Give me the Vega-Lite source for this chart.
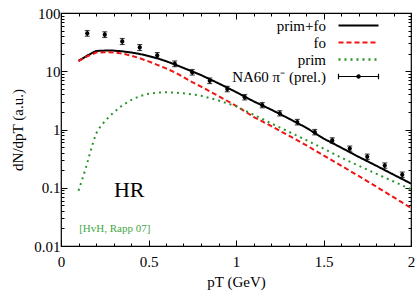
{
  "$schema": "https://vega.github.io/schema/vega-lite/v6.json",
  "width": 350,
  "height": 233,
  "autosize": {"type": "none"},
  "padding": {"left": 61, "top": 13, "right": 6, "bottom": 46},
  "background": "white",
  "config": {
    "font": "Liberation Serif",
    "view": {"stroke": "black", "strokeWidth": 1.2},
    "axis": {"domain": false, "grid": false, "labelFont": "Liberation Serif", "titleFont": "Liberation Serif", "labelFontSize": 15, "titleFontSize": 15, "labelColor": "black", "titleColor": "black", "tickColor": "black", "titleFontWeight": "normal", "labelOverlap": false, "labelBound": false, "labelFlush": false},
    "legend": {"labelFont": "Liberation Serif", "labelFontSize": 15, "labelColor": "black"}
  },
  "datasets": {
    "curves": [
      {"series": "prim+fo", "pT": 0.1, "v": 15}, {"series": "prim+fo", "pT": 0.15, "v": 18.6}, {"series": "prim+fo", "pT": 0.2, "v": 22.3}, {"series": "prim+fo", "pT": 0.25, "v": 22.6}, {"series": "prim+fo", "pT": 0.3, "v": 22.6}, {"series": "prim+fo", "pT": 0.35, "v": 22.0}, {"series": "prim+fo", "pT": 0.4, "v": 21.0}, {"series": "prim+fo", "pT": 0.45, "v": 19.8}, {"series": "prim+fo", "pT": 0.5, "v": 18.3}, {"series": "prim+fo", "pT": 0.55, "v": 16.7}, {"series": "prim+fo", "pT": 0.6, "v": 14.9}, {"series": "prim+fo", "pT": 0.65, "v": 13.1}, {"series": "prim+fo", "pT": 0.7, "v": 11.4}, {"series": "prim+fo", "pT": 0.75, "v": 9.9}, {"series": "prim+fo", "pT": 0.8, "v": 8.6}, {"series": "prim+fo", "pT": 0.9, "v": 6.2}, {"series": "prim+fo", "pT": 1.0, "v": 4.4}, {"series": "prim+fo", "pT": 1.1, "v": 3.05}, {"series": "prim+fo", "pT": 1.2, "v": 2.2}, {"series": "prim+fo", "pT": 1.3, "v": 1.55}, {"series": "prim+fo", "pT": 1.4, "v": 1.08}, {"series": "prim+fo", "pT": 1.5, "v": 0.7}, {"series": "prim+fo", "pT": 1.6, "v": 0.49}, {"series": "prim+fo", "pT": 1.7, "v": 0.34}, {"series": "prim+fo", "pT": 1.8, "v": 0.24}, {"series": "prim+fo", "pT": 1.9, "v": 0.168}, {"series": "prim+fo", "pT": 2.0, "v": 0.118},
      {"series": "fo", "pT": 0.1, "v": 15}, {"series": "fo", "pT": 0.15, "v": 18.0}, {"series": "fo", "pT": 0.2, "v": 20.9}, {"series": "fo", "pT": 0.25, "v": 21.2}, {"series": "fo", "pT": 0.3, "v": 21.0}, {"series": "fo", "pT": 0.35, "v": 20.1}, {"series": "fo", "pT": 0.4, "v": 18.6}, {"series": "fo", "pT": 0.45, "v": 16.7}, {"series": "fo", "pT": 0.5, "v": 14.8}, {"series": "fo", "pT": 0.55, "v": 12.9}, {"series": "fo", "pT": 0.6, "v": 11.2}, {"series": "fo", "pT": 0.65, "v": 9.6}, {"series": "fo", "pT": 0.7, "v": 7.9}, {"series": "fo", "pT": 0.75, "v": 6.5}, {"series": "fo", "pT": 0.8, "v": 5.45}, {"series": "fo", "pT": 0.9, "v": 3.75}, {"series": "fo", "pT": 1.0, "v": 2.55}, {"series": "fo", "pT": 1.1, "v": 1.65}, {"series": "fo", "pT": 1.2, "v": 1.15}, {"series": "fo", "pT": 1.3, "v": 0.79}, {"series": "fo", "pT": 1.4, "v": 0.54}, {"series": "fo", "pT": 1.5, "v": 0.36}, {"series": "fo", "pT": 1.6, "v": 0.24}, {"series": "fo", "pT": 1.7, "v": 0.16}, {"series": "fo", "pT": 1.8, "v": 0.105}, {"series": "fo", "pT": 1.9, "v": 0.069}, {"series": "fo", "pT": 2.0, "v": 0.045},
      {"series": "prim", "pT": 0.1, "v": 0.089}, {"series": "prim", "pT": 0.12, "v": 0.135}, {"series": "prim", "pT": 0.14, "v": 0.21}, {"series": "prim", "pT": 0.16, "v": 0.34}, {"series": "prim", "pT": 0.18, "v": 0.55}, {"series": "prim", "pT": 0.2, "v": 0.85}, {"series": "prim", "pT": 0.225, "v": 1.12}, {"series": "prim", "pT": 0.25, "v": 1.38}, {"series": "prim", "pT": 0.275, "v": 1.66}, {"series": "prim", "pT": 0.3, "v": 1.95}, {"series": "prim", "pT": 0.35, "v": 2.6}, {"series": "prim", "pT": 0.4, "v": 3.2}, {"series": "prim", "pT": 0.45, "v": 3.75}, {"series": "prim", "pT": 0.5, "v": 4.1}, {"series": "prim", "pT": 0.55, "v": 4.3}, {"series": "prim", "pT": 0.6, "v": 4.35}, {"series": "prim", "pT": 0.65, "v": 4.3}, {"series": "prim", "pT": 0.7, "v": 4.2}, {"series": "prim", "pT": 0.75, "v": 4.0}, {"series": "prim", "pT": 0.8, "v": 3.8}, {"series": "prim", "pT": 0.9, "v": 3.15}, {"series": "prim", "pT": 1.0, "v": 2.5}, {"series": "prim", "pT": 1.1, "v": 1.8}, {"series": "prim", "pT": 1.2, "v": 1.28}, {"series": "prim", "pT": 1.3, "v": 0.92}, {"series": "prim", "pT": 1.4, "v": 0.66}, {"series": "prim", "pT": 1.5, "v": 0.47}, {"series": "prim", "pT": 1.6, "v": 0.33}, {"series": "prim", "pT": 1.7, "v": 0.24}, {"series": "prim", "pT": 1.8, "v": 0.175}, {"series": "prim", "pT": 1.9, "v": 0.128}, {"series": "prim", "pT": 2.0, "v": 0.094}
    ],
    "na60": [
      {"pT": 0.15, "v": 44.9, "lo": 40, "hi": 50},
      {"pT": 0.25, "v": 42.5, "lo": 38, "hi": 47.5},
      {"pT": 0.35, "v": 32.5, "lo": 28.8, "hi": 36.5},
      {"pT": 0.45, "v": 25.6, "lo": 22.7, "hi": 28.7},
      {"pT": 0.55, "v": 18.7, "lo": 16.7, "hi": 20.9},
      {"pT": 0.65, "v": 13.4, "lo": 12.0, "hi": 15.0},
      {"pT": 0.75, "v": 9.6, "lo": 8.6, "hi": 10.7},
      {"pT": 0.85, "v": 6.85, "lo": 6.15, "hi": 7.65},
      {"pT": 0.95, "v": 4.95, "lo": 4.45, "hi": 5.5},
      {"pT": 1.05, "v": 3.58, "lo": 3.22, "hi": 3.98},
      {"pT": 1.15, "v": 2.62, "lo": 2.36, "hi": 2.9},
      {"pT": 1.25, "v": 1.9, "lo": 1.71, "hi": 2.1},
      {"pT": 1.35, "v": 1.34, "lo": 1.2, "hi": 1.49},
      {"pT": 1.45, "v": 0.9, "lo": 0.81, "hi": 1.0},
      {"pT": 1.55, "v": 0.65, "lo": 0.585, "hi": 0.72},
      {"pT": 1.65, "v": 0.47, "lo": 0.423, "hi": 0.52},
      {"pT": 1.75, "v": 0.34, "lo": 0.306, "hi": 0.378},
      {"pT": 1.85, "v": 0.24, "lo": 0.216, "hi": 0.267},
      {"pT": 1.95, "v": 0.167, "lo": 0.15, "hi": 0.186}
    ]
  },
  "layer": [
    {
      "data": {"name": "curves"},
      "mark": {"type": "line", "strokeWidth": 2, "clip": true},
      "encoding": {
        "x": {"field": "pT", "type": "quantitative", "scale": {"domain": [0, 2], "nice": false},
          "axis": {"orient": "bottom", "title": "pT (GeV)", "titlePadding": 2,
            "values": [0, 0.1, 0.2, 0.3, 0.4, 0.5, 0.6, 0.7, 0.8, 0.9, 1, 1.1, 1.2, 1.3, 1.4, 1.5, 1.6, 1.7, 1.8, 1.9, 2],
            "labelExpr": "abs(datum.value*2 - round(datum.value*2)) < 0.001 ? format(datum.value, '~g') : ''",
            "tickSize": {"condition": {"test": "abs(datum.value*2 - round(datum.value*2)) < 0.001", "value": -6}, "value": -3},
            "labelPadding": 14}},
        "y": {"field": "v", "type": "quantitative", "scale": {"type": "log", "domain": [0.01, 100], "nice": false},
          "axis": {"orient": "left", "title": "dN/dpT (a.u.)", "titlePadding": 8,
            "values": [0.01, 0.02, 0.03, 0.04, 0.05, 0.06, 0.07, 0.08, 0.09, 0.1, 0.2, 0.3, 0.4, 0.5, 0.6, 0.7, 0.8, 0.9, 1, 2, 3, 4, 5, 6, 7, 8, 9, 10, 20, 30, 40, 50, 60, 70, 80, 90, 100],
            "labelExpr": "abs(log(datum.value)/LN10 - round(log(datum.value)/LN10)) < 0.001 ? format(datum.value, '~g') : ''",
            "tickSize": {"condition": {"test": "abs(log(datum.value)/LN10 - round(log(datum.value)/LN10)) < 0.001", "value": -6}, "value": -3},
            "labelPadding": 7}},
        "color": {"field": "series", "type": "nominal",
          "scale": {"domain": ["prim+fo", "fo", "prim", "NA60 π⁻ (prel.)"], "range": ["black", "#f01414", "#2a942a", "black"]},
          "legend": {"title": null, "orient": "none", "legendX": 290, "legendY": 5, "symbolType": "stroke", "symbolSize": 1600, "symbolStrokeWidth": 2, "rowPadding": 1, "labelAlign": "right", "labelOffset": -40,
            "encode": {"symbols": {"update": {
              "shape": {"signal": "datum.value === 'NA60 π⁻ (prel.)' ? 'M-1,0L1,0M-1,-0.14L-1,0.14M1,-0.14L1,0.14M-0.08,0A0.08,0.08,0,1,0,0.08,0A0.08,0.08,0,1,0,-0.08,0Z' : 'stroke'"},
              "fill": {"signal": "datum.value === 'NA60 π⁻ (prel.)' ? 'black' : 'transparent'"},
              "strokeWidth": {"signal": "datum.value === 'NA60 π⁻ (prel.)' ? 1.2 : (datum.value === 'prim' ? 2.5 : 2)"}
            }}}}},
        "strokeDash": {"field": "series", "type": "nominal",
          "scale": {"domain": ["prim+fo", "fo", "prim", "NA60 π⁻ (prel.)"], "range": [[1, 0], [5, 3], [2, 4], [1, 0]]},
          "legend": {"title": null, "orient": "none", "legendX": 290, "legendY": 5, "symbolType": "stroke", "symbolSize": 1600, "symbolStrokeWidth": 2, "rowPadding": 1, "labelAlign": "right", "labelOffset": -40}}
      }
    },
    {
      "data": {"name": "na60"},
      "mark": {"type": "point", "filled": true, "color": "black", "size": 18, "opacity": 1},
      "encoding": {
        "x": {"field": "pT", "type": "quantitative",
          "axis": {"orient": "top", "title": null, "labels": false,
            "values": [0, 0.1, 0.2, 0.3, 0.4, 0.5, 0.6, 0.7, 0.8, 0.9, 1, 1.1, 1.2, 1.3, 1.4, 1.5, 1.6, 1.7, 1.8, 1.9, 2],
            "tickSize": {"condition": {"test": "abs(datum.value*2 - round(datum.value*2)) < 0.001", "value": -6}, "value": -3}}},
        "y": {"field": "v", "type": "quantitative",
          "axis": {"orient": "right", "title": null, "labels": false,
            "values": [0.01, 0.02, 0.03, 0.04, 0.05, 0.06, 0.07, 0.08, 0.09, 0.1, 0.2, 0.3, 0.4, 0.5, 0.6, 0.7, 0.8, 0.9, 1, 2, 3, 4, 5, 6, 7, 8, 9, 10, 20, 30, 40, 50, 60, 70, 80, 90, 100],
            "tickSize": {"condition": {"test": "abs(log(datum.value)/LN10 - round(log(datum.value)/LN10)) < 0.001", "value": -6}, "value": -3}}}
      }
    },
    {
      "data": {"name": "na60"},
      "mark": {"type": "rule", "color": "black", "strokeWidth": 1.2},
      "encoding": {
        "x": {"field": "pT", "type": "quantitative", "axis": null},
        "y": {"field": "lo", "type": "quantitative", "axis": null},
        "y2": {"field": "hi"}
      }
    },
    {
      "data": {"name": "na60"},
      "mark": {"type": "tick", "orient": "horizontal", "color": "black", "size": 5, "thickness": 1.2},
      "encoding": {
        "x": {"field": "pT", "type": "quantitative", "axis": null},
        "y": {"field": "lo", "type": "quantitative", "axis": null}
      }
    },
    {
      "data": {"name": "na60"},
      "mark": {"type": "tick", "orient": "horizontal", "color": "black", "size": 5, "thickness": 1.2},
      "encoding": {
        "x": {"field": "pT", "type": "quantitative", "axis": null},
        "y": {"field": "hi", "type": "quantitative", "axis": null}
      }
    },
    {
      "data": {"values": [{"label": "HR"}]},
      "mark": {"type": "text", "font": "Liberation Serif", "fontSize": 22, "color": "black", "align": "center", "baseline": "middle"},
      "encoding": {
        "x": {"datum": 0.39, "type": "quantitative", "axis": null},
        "y": {"datum": 0.092, "type": "quantitative", "axis": null},
        "text": {"field": "label"}
      }
    },
    {
      "data": {"values": [{"label": "[HvH, Rapp 07]"}]},
      "mark": {"type": "text", "font": "Liberation Serif", "fontSize": 11, "color": "#45a845", "align": "center", "baseline": "middle"},
      "encoding": {
        "x": {"datum": 0.307, "type": "quantitative", "axis": null},
        "y": {"datum": 0.0197, "type": "quantitative", "axis": null},
        "text": {"field": "label"}
      }
    }
  ]
}
